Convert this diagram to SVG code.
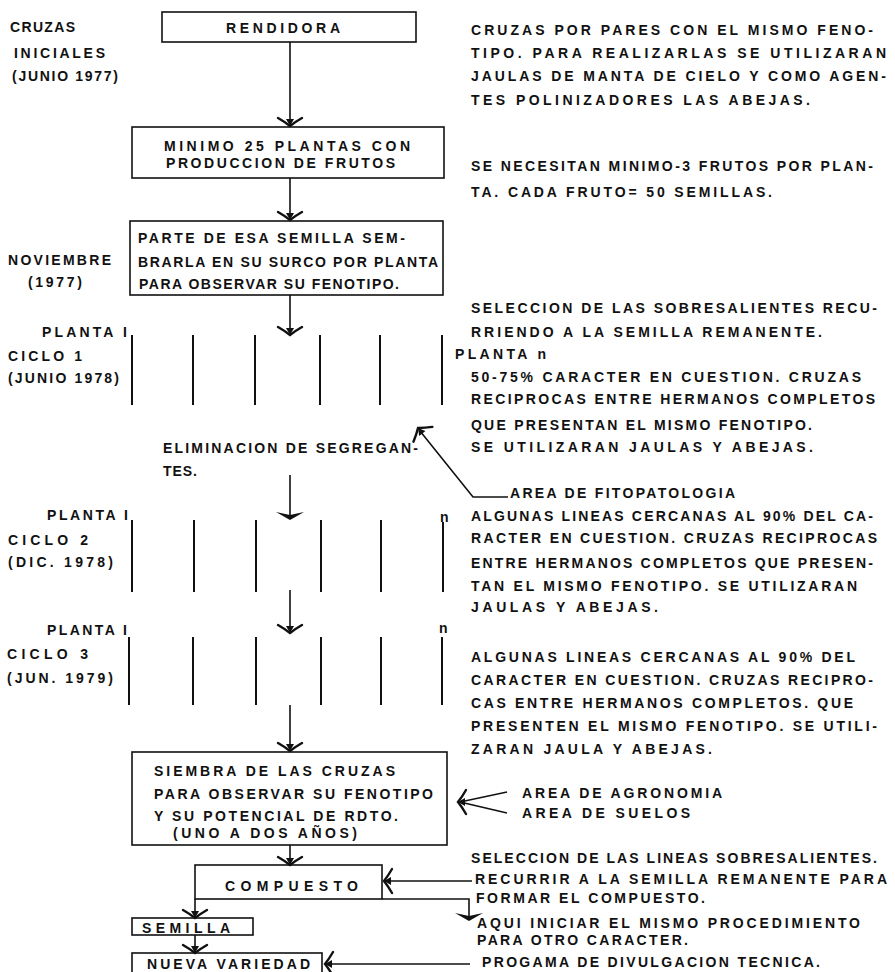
<svg xmlns="http://www.w3.org/2000/svg" xmlns:xlink="http://www.w3.org/1999/xlink" width="895" height="972" viewBox="0 0 895 972">
<style>
.t{font-family:"Liberation Sans",Arial,sans-serif;font-weight:bold;font-size:14px;fill:#111}
.box{fill:none;stroke:#111;stroke-width:1.6}
.ln{fill:none;stroke:#111;stroke-width:1.6}
.pl{stroke:#111;stroke-width:2}
.ah{fill:#111}
.wing{fill:none;stroke:#111;stroke-width:2.4;stroke-linecap:round}
</style>
<defs>
<g id="ah"><path class="wing" d="M-12,-8 Q-5,-4 0,0 Q5,-4 12,-8"/><path d="M-4,-7 L0,0 L4,-7Z" fill="#111"/></g>
<path id="ahf" d="M-14,-8 L0,0 L14,-8 L0,-5Z"/>
</defs>
<rect width="895" height="972" fill="#fff"/>

<g id="connectors">
<line class="ln" x1="290" y1="42" x2="290" y2="126"/>
<use href="#ah" transform="translate(290,126)"/>
<line class="ln" x1="290" y1="178" x2="290" y2="220"/>
<use href="#ah" transform="translate(290,220)"/>
<line class="ln" x1="290" y1="295" x2="290" y2="334"/>
<use href="#ah" transform="translate(290,335)"/>
<line class="ln" x1="290" y1="475" x2="290" y2="518"/>
<use href="#ahf" class="ah" transform="translate(290,520)"/>
<line class="ln" x1="290" y1="590" x2="290" y2="632"/>
<use href="#ah" transform="translate(290,633)"/>
<line class="ln" x1="290" y1="705" x2="290" y2="750"/>
<use href="#ah" transform="translate(290,751)"/>
<line class="ln" x1="290" y1="845" x2="290" y2="864"/>
<use href="#ah" transform="translate(290,865)"/>
<line class="ln" x1="195" y1="899" x2="195" y2="917"/>
<use href="#ah" transform="translate(195,918)"/>
<line class="ln" x1="195" y1="935" x2="195" y2="952"/>
<use href="#ah" transform="translate(195,953)"/>
<polyline class="ln" points="382,899 469,899 469,919"/>
<use href="#ahf" class="ah" transform="translate(469,921)"/>
<line class="ln" x1="472" y1="881" x2="384" y2="881"/>
<use href="#ah" transform="translate(384,881) rotate(90)"/>
<line class="ln" x1="470" y1="964" x2="325" y2="964"/>
<use href="#ah" transform="translate(325,964) rotate(90)"/>
<polyline class="ln" points="508,497 473,497 420,431"/>
<use href="#ah" transform="translate(418,428) rotate(142)"/>
<line class="ln" x1="507" y1="792" x2="460" y2="802"/>
<line class="ln" x1="507" y1="813" x2="460" y2="802"/>
<use href="#ah" transform="translate(458,802) rotate(90)"/>
</g>

<g id="n-cruzas-iniciales">
<text class="t" x="10" y="32" textLength="65" lengthAdjust="spacing">CRUZAS</text>
<text class="t" x="14" y="58" textLength="91" lengthAdjust="spacing">INICIALES</text>
<text class="t" x="12" y="81" textLength="106" lengthAdjust="spacing">(JUNIO 1977)</text>
</g>

<g id="n-rendidora">
<rect class="box" x="162" y="12" width="254" height="30"/>
<text class="t" x="226" y="33" textLength="114" lengthAdjust="spacing">RENDIDORA</text>
</g>

<g id="n-minimo">
<rect class="box" x="132" y="127" width="312" height="51"/>
<text class="t" x="164" y="151" textLength="246" lengthAdjust="spacing">MINIMO 25 PLANTAS CON</text>
<text class="t" x="166" y="168" textLength="229" lengthAdjust="spacing">PRODUCCION DE FRUTOS</text>
</g>

<g id="n-parte">
<rect class="box" x="130" y="221" width="313" height="74"/>
<text class="t" x="138" y="243" textLength="267" lengthAdjust="spacing">PARTE DE ESA SEMILLA SEM-</text>
<text class="t" x="138" y="267" textLength="300" lengthAdjust="spacing">BRARLA EN SU SURCO POR PLANTA</text>
<text class="t" x="139" y="289" textLength="260" lengthAdjust="spacing">PARA OBSERVAR SU FENOTIPO.</text>
</g>

<g id="n-noviembre">
<text class="t" x="8" y="265" textLength="103" lengthAdjust="spacing">NOVIEMBRE</text>
<text class="t" x="28" y="287" textLength="54" lengthAdjust="spacing">(1977)</text>
</g>

<g id="n-note-top">
<text class="t" x="471" y="35" textLength="402" lengthAdjust="spacing">CRUZAS POR PARES CON EL MISMO FENO-</text>
<text class="t" x="471" y="58" textLength="415" lengthAdjust="spacing">TIPO. PARA REALIZARLAS SE UTILIZARAN</text>
<text class="t" x="471" y="81" textLength="415" lengthAdjust="spacing">JAULAS DE MANTA DE CIELO Y COMO AGEN-</text>
<text class="t" x="471" y="105" textLength="339" lengthAdjust="spacing">TES POLINIZADORES LAS ABEJAS.</text>
</g>

<g id="n-note-frutos">
<text class="t" x="471" y="171" textLength="402" lengthAdjust="spacing">SE NECESITAN MINIMO-3 FRUTOS POR PLAN-</text>
<text class="t" x="471" y="197" textLength="301" lengthAdjust="spacing">TA. CADA FRUTO= 50 SEMILLAS.</text>
</g>

<g id="n-note-ciclo1">
<text class="t" x="471" y="313" textLength="406" lengthAdjust="spacing">SELECCION DE LAS SOBRESALIENTES RECU-</text>
<text class="t" x="471" y="337" textLength="351" lengthAdjust="spacing">RRIENDO A LA SEMILLA REMANENTE.</text>
<text class="t" x="455" y="359" textLength="91" lengthAdjust="spacing">PLANTA n</text>
<text class="t" x="471" y="382" textLength="390" lengthAdjust="spacing">50-75% CARACTER EN CUESTION. CRUZAS</text>
<text class="t" x="471" y="404" textLength="404" lengthAdjust="spacing">RECIPROCAS ENTRE HERMANOS COMPLETOS</text>
<text class="t" x="471" y="430" textLength="341" lengthAdjust="spacing">QUE PRESENTAN EL MISMO FENOTIPO.</text>
<text class="t" x="471" y="452" textLength="342" lengthAdjust="spacing">SE UTILIZARAN JAULAS Y ABEJAS.</text>
</g>

<g id="n-ciclo1">
<text class="t" x="42" y="337" textLength="85" lengthAdjust="spacing">PLANTA I</text>
<text class="t" x="8" y="361" textLength="74" lengthAdjust="spacing">CICLO 1</text>
<text class="t" x="8" y="383" textLength="111" lengthAdjust="spacing">(JUNIO 1978)</text>
<line class="pl" x1="132" y1="335" x2="132" y2="405"/>
<line class="pl" x1="193" y1="335" x2="193" y2="405"/>
<line class="pl" x1="255" y1="335" x2="255" y2="405"/>
<line class="pl" x1="320" y1="335" x2="320" y2="405"/>
<line class="pl" x1="380" y1="335" x2="380" y2="405"/>
<line class="pl" x1="442" y1="335" x2="442" y2="405"/>
</g>

<g id="n-eliminacion">
<text class="t" x="163" y="453" textLength="255" lengthAdjust="spacing">ELIMINACION DE SEGREGAN-</text>
<text class="t" x="163" y="476" textLength="34" lengthAdjust="spacing">TES.</text>
</g>

<g id="n-fitopatologia">
<text class="t" x="510" y="498" textLength="225" lengthAdjust="spacing">AREA DE FITOPATOLOGIA</text>
</g>

<g id="n-ciclo2">
<text class="t" x="47" y="520" textLength="81" lengthAdjust="spacing">PLANTA I</text>
<text class="t" x="8" y="545" textLength="80" lengthAdjust="spacing">CICLO 2</text>
<text class="t" x="8" y="567" textLength="105" lengthAdjust="spacing">(DIC. 1978)</text>
<line class="pl" x1="132" y1="520" x2="132" y2="592"/>
<line class="pl" x1="194" y1="520" x2="194" y2="592"/>
<line class="pl" x1="256" y1="520" x2="256" y2="592"/>
<line class="pl" x1="321" y1="520" x2="321" y2="592"/>
<line class="pl" x1="381" y1="520" x2="381" y2="592"/>
<text class="t" x="440" y="522">n</text>
<line class="pl" x1="443" y1="522" x2="443" y2="592"/>
</g>

<g id="n-note-ciclo2">
<text class="t" x="471" y="521" textLength="402" lengthAdjust="spacing">ALGUNAS LINEAS CERCANAS AL 90% DEL CA-</text>
<text class="t" x="471" y="543" textLength="406" lengthAdjust="spacing">RACTER EN CUESTION. CRUZAS RECIPROCAS</text>
<text class="t" x="471" y="568" textLength="402" lengthAdjust="spacing">ENTRE HERMANOS COMPLETOS QUE PRESEN-</text>
<text class="t" x="471" y="591" textLength="386" lengthAdjust="spacing">TAN EL MISMO FENOTIPO. SE UTILIZARAN</text>
<text class="t" x="471" y="612" textLength="187" lengthAdjust="spacing">JAULAS Y ABEJAS.</text>
</g>

<g id="n-ciclo3">
<text class="t" x="47" y="635" textLength="80" lengthAdjust="spacing">PLANTA I</text>
<text class="t" x="7" y="659" textLength="81" lengthAdjust="spacing">CICLO 3</text>
<text class="t" x="7" y="683" textLength="106" lengthAdjust="spacing">(JUN. 1979)</text>
<line class="pl" x1="129" y1="637" x2="129" y2="705"/>
<line class="pl" x1="193" y1="637" x2="193" y2="705"/>
<line class="pl" x1="256" y1="637" x2="256" y2="705"/>
<line class="pl" x1="321" y1="637" x2="321" y2="705"/>
<line class="pl" x1="381" y1="637" x2="381" y2="705"/>
<text class="t" x="439" y="633">n</text>
<line class="pl" x1="442" y1="637" x2="442" y2="705"/>
</g>

<g id="n-note-ciclo3">
<text class="t" x="471" y="662" textLength="384" lengthAdjust="spacing">ALGUNAS LINEAS CERCANAS AL 90% DEL</text>
<text class="t" x="471" y="685" textLength="402" lengthAdjust="spacing">CARACTER EN CUESTION. CRUZAS RECIPRO-</text>
<text class="t" x="471" y="708" textLength="382" lengthAdjust="spacing">CAS ENTRE HERMANOS COMPLETOS. QUE</text>
<text class="t" x="471" y="731" textLength="406" lengthAdjust="spacing">PRESENTEN EL MISMO FENOTIPO. SE UTILI-</text>
<text class="t" x="471" y="754" textLength="241" lengthAdjust="spacing">ZARAN JAULA Y ABEJAS.</text>
</g>

<g id="n-siembra">
<rect class="box" x="132" y="752" width="315" height="93"/>
<text class="t" x="154" y="776" textLength="241" lengthAdjust="spacing">SIEMBRA DE LAS CRUZAS</text>
<text class="t" x="154" y="799" textLength="279" lengthAdjust="spacing">PARA OBSERVAR SU FENOTIPO</text>
<text class="t" x="154" y="821" textLength="244" lengthAdjust="spacing">Y SU POTENCIAL DE RDTO.</text>
<text class="t" x="173" y="838" textLength="184" lengthAdjust="spacing">(UNO A DOS AÑOS)</text>
</g>

<g id="n-areas">
<text class="t" x="522" y="798" textLength="200" lengthAdjust="spacing">AREA DE AGRONOMIA</text>
<text class="t" x="522" y="818" textLength="168" lengthAdjust="spacing">AREA DE SUELOS</text>
</g>

<g id="n-compuesto">
<rect class="box" x="195" y="865" width="187" height="34"/>
<text class="t" x="225" y="891" textLength="133" lengthAdjust="spacing">COMPUESTO</text>
</g>

<g id="n-note-compuesto">
<text class="t" x="471" y="863" textLength="406" lengthAdjust="spacing">SELECCION DE LAS LINEAS SOBRESALIENTES.</text>
<text class="t" x="475" y="884" textLength="412" lengthAdjust="spacing">RECURRIR A LA SEMILLA REMANENTE PARA</text>
<text class="t" x="476" y="903" textLength="229" lengthAdjust="spacing">FORMAR EL COMPUESTO.</text>
<text class="t" x="477" y="928" textLength="383" lengthAdjust="spacing">AQUI INICIAR EL MISMO PROCEDIMIENTO</text>
<text class="t" x="477" y="945" textLength="211" lengthAdjust="spacing">PARA OTRO CARACTER.</text>
<text class="t" x="482" y="967" textLength="338" lengthAdjust="spacing">PROGAMA DE DIVULGACION TECNICA.</text>
</g>

<g id="n-semilla">
<rect class="box" x="132" y="918" width="121" height="17"/>
<text class="t" x="142" y="933" textLength="88" lengthAdjust="spacing">SEMILLA</text>
</g>

<g id="n-nueva-variedad">
<rect class="box" x="132" y="953" width="190" height="30"/>
<text class="t" x="147" y="969" textLength="163" lengthAdjust="spacing">NUEVA VARIEDAD</text>
</g>
</svg>
